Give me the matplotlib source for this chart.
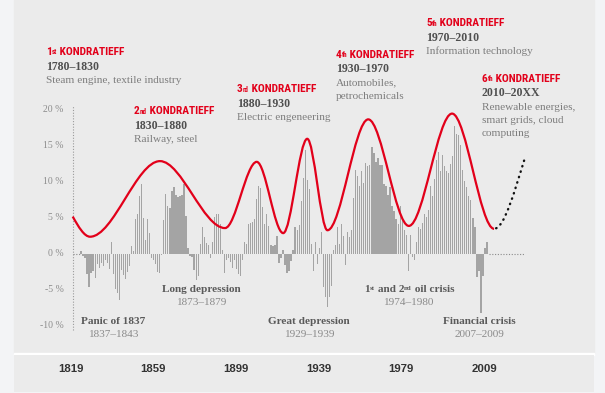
import matplotlib.pyplot as plt
import numpy as np
from matplotlib.path import Path
from matplotlib.patches import PathPatch, Rectangle
from matplotlib import font_manager

# yearly bars (rolling return in %), first bar is 1810
start_year = 1810
returns = [
    0.4, -0.3, -0.5, -2.8, -4.6, -2.6, -2.4, -3.3, -1.4, -1.9,
    -1.2, -1.6, -0.9, -1.2, -2.1, 1.6, -2.8, -4.8, -5.4, -6.4,
    -2.2, -2.9, -3.5, -2.5, -1.7, 1.1, 0.4, 4.8, 5.6, 8.0,
    9.7, 5.0, 2.0, 4.8, 2.9,
    -0.6, -0.8, -1.4, -2.5, -2.7, -0.2, 4.7, 8.4, 6.6, 6.4,
    8.7, 9.3, 8.2, 7.9, 8.0, 8.2, 9.7, 5.3, 0.8, -0.3,
    -0.4, -2.2, -3.6, -3.0,
    1.4, 3.8, 2.3, 1.5, 1.2, -0.6, 1.6, 5.2, 5.5, 5.6,
    4.2, 0.6, -2.6, -0.8, -0.6, -1.1, -2.0, -0.8, -2.1, -2.8,
    -3.0, -0.8, 1.6, 1.4, 4.2, 4.3, 4.5,
    4.8, 7.6, 9.5, 9.2, 6.5, 4.2, 5.6, 3.9, 1.3, 1.1,
    1.2, 2.5, -1.2, -0.5, 0.6, -1.5, -2.7, -2.4, -1.0, 0.5,
    3.7, 3.4, 4.0, 7.4, 10.5, 14.5,
    10.3, 9.0, 1.4, -2.4, 1.6, -1.4, 0.8, 3.0, -4.6, -6.0,
    -7.3, -6.0, -4.4, 0.6, 1.2, 3.8, 1.4, 4.2, 2.5, -1.5,
    3.0, 2.3, 3.4,
    7.8, 11.6, 10.9, 9.4, 11.5, 9.9, 12.6, 12.2, 12.4, 14.9,
    14.0, 12.8, 13.3, 12.3, 12.3, 9.7, 9.4, 8.2, 9.3, 6.7,
    6.0, 4.8, 4.2, 6.6, 5.0, 3.4, 2.7, -2.3, 2.7, -0.4,
    -0.8, 1.7, 3.7, 3.5,
    4.3, 5.6, 5.2, 6.1, 9.4, 8.0, 10.4, 13.0, 14.2, 11.5,
    13.7, 12.2, 11.5, 11.3, 12.5, 13.6, 17.8, 16.6, 16.5, 15.2,
    11.6, 10.2, 9.3, 8.0, 7.5, 5.0, 3.8, -3.2, -2.4, -8.2,
    -3.0, 0.8, 1.6,
]
years = np.arange(start_year, start_year + len(returns))

# Kondratieff wave: key points (year, %) and slope there (%/year)
curve_years = [1805.9, 1814.5, 1849.1, 1881.3, 1897.0, 1910.1, 1922.0,
               1932.0, 1952.2, 1972.3, 1993.7, 2014.5, 2029.6]
curve_values = [5.2, 2.4, 12.9, 3.6, 12.8, 2.9, 16.0,
                3.3, 18.7, 3.9, 19.5, 3.5, 13.2]
curve_slopes = [-0.5, 0, 0, 0, 0, 0, 0, 0, 0, 0, 0, 0, 0.9]

y_ticks = [20, 15, 10, 5, 0, -5, -10]
y_labels = ['20 %', '15 %', '10 %', '5 %', '0 %', '-5 %', '-10 %']
bottom_labels = ['1819', '1859', '1899', '1939', '1979', '2009']

waves = [
    ('1', 'st', '1780\u20131830', ['Steam engine, textile industry']),
    ('2', 'nd', '1830\u20131880', ['Railway, steel']),
    ('3', 'rd', '1880\u20131930', ['Electric engeneering']),
    ('4', 'th', '1930\u20131970', ['Automobiles,', 'petrochemicals']),
    ('5', 'th', '1970\u20132010', ['Information technology']),
    ('6', 'th', '2010\u201320XX', ['Renewable energies,', 'smart grids, cloud', 'computing']),
]
crises = [
    ('Panic of 1837', '1837\u20131843'),
    ('Long depression', '1873\u20131879'),
    ('Great depression', '1929\u20131939'),
    ('Financial crisis', '2007\u20132009'),
]

W, H = 605, 393
RED = '#e2001a'
PANEL = '#ebebeb'
SERIF = 'Liberation Serif'

# narrow bold sans for the red headings, whatever is installed
fonts = font_manager.fontManager.ttflist
names = {f.name for f in fonts}
HEAD, HEAD_STRETCH, HEAD_SIZE = 'Roboto', 'normal', 6.9
if 'Roboto Condensed' in names:
    HEAD, HEAD_STRETCH, HEAD_SIZE = 'Roboto Condensed', 'normal', 8.2
elif 'Liberation Sans Narrow' in names:
    HEAD, HEAD_STRETCH, HEAD_SIZE = 'Liberation Sans Narrow', 'normal', 8.2
elif any(f.name == 'DejaVu Sans' and f.stretch == 'condensed' for f in fonts):
    HEAD, HEAD_STRETCH, HEAD_SIZE = 'DejaVu Sans', 'condensed', 7.2


def fx(px):
    return px / W


def fy(py):
    return 1 - py / H


fig = plt.figure(figsize=(W / 100, H / 100), dpi=100, facecolor='#f3f4f6')
fig.patches.append(Rectangle((fx(13.5), fy(352.5)), fx(580), 352.5 / H,
                             transform=fig.transFigure, color=PANEL, zorder=-2))
fig.patches.append(Rectangle((fx(13.5), fy(355)), fx(580), 2.5 / H,
                             transform=fig.transFigure, color='white', zorder=-2))

ax = fig.add_axes([0, 0, 1, 1])
ax.patch.set_alpha(0)
ax.axis('off')
# 81 px = first bar, 2.02 px per year, 0 % at 254 px, 7.2 px per %
ax.set_xlim(start_year - 81 / 2.02, start_year + (W - 81) / 2.02)
ax.set_ylim(-(H - 254) / 7.2, 254 / 7.2)

ax.bar(years, returns, width=0.62, color='#a4a4a4', zorder=2)

# y axis, dotted
ax.vlines(curve_years[0], -10.5, 20.5, colors='#9a9a9a', linestyles=(0, (1, 1.5)), lw=0.8)
ax.hlines(0, curve_years[0], years[0] - 0.5, colors='#8a8a8a', linestyles=(0, (1, 1.5)), lw=0.8)
ax.hlines(0, years[-1] + 1, curve_years[-1], colors='#8a8a8a', linestyles=(0, (1, 1.5)), lw=0.8)
for v, lab in zip(y_ticks, y_labels):
    ax.text(fx(63.5), v, lab, transform=ax.get_yaxis_transform(), ha='right', va='center',
            fontsize=7, color='#8c8c8c', family=SERIF)


def wave_path(xs, ys, ss):
    verts = [(xs[0], ys[0])]
    codes = [Path.MOVETO]
    for i in range(len(xs) - 1):
        d = (xs[i + 1] - xs[i]) / 3
        verts += [(xs[i] + d, ys[i] + ss[i] * d),
                  (xs[i + 1] - d, ys[i + 1] - ss[i + 1] * d),
                  (xs[i + 1], ys[i + 1])]
        codes += [Path.CURVE4] * 3
    return Path(verts, codes)


n = len(curve_years)
ax.add_patch(PathPatch(wave_path(curve_years[:n - 1], curve_values[:n - 1], curve_slopes[:n - 1]),
                       fill=False, edgecolor=RED, lw=1.6, zorder=3))
ax.add_patch(PathPatch(wave_path(curve_years[n - 2:], curve_values[n - 2:], curve_slopes[n - 2:]),
                       fill=False, edgecolor='#111111', lw=1.7, linestyle=(1.5, (0.2, 2.2)),
                       capstyle='round', zorder=3))


def sup_text(x, y, parts, size, color, family, weight, stretch='normal'):
    # parts: (string, is_superscript); first piece sets the baseline
    kw = dict(color=color, family=family, weight=weight, fontstretch=stretch)
    first = ax.text(fx(x), fy(y), parts[0][0], transform=ax.transAxes, ha='left',
                    va='baseline', fontsize=size, **kw)
    prev = first
    for s, sup in parts[1:]:
        if sup:
            prev = ax.annotate(s, xy=(1, 0.88), xycoords=(prev, first), ha='left', va='top',
                               fontsize=size * 0.62, **kw)
        else:
            prev = ax.annotate(s, xy=(1, 0), xycoords=(prev, first), ha='left', va='bottom',
                               fontsize=size, **kw)


# x of left edge, baseline of red heading (px)
wave_pos = [(46, 55), (134, 114.5), (237, 92.5), (336, 57.5), (426, 26.5), (482, 81.5)]
for (num, sup, span, desc), (x, y) in zip(waves, wave_pos):
    sup_text(x, y, [(num, False), (sup, True), (' KONDRATIEFF', False)],
             HEAD_SIZE, RED, HEAD, 'bold', HEAD_STRETCH)
    ax.text(fx(x), fy(y + 14.5), span, transform=ax.transAxes, va='baseline',
            fontsize=8.5, color='#4f4f4f', family=SERIF, weight='bold')
    for k, line in enumerate(desc):
        ax.text(fx(x), fy(y + 28 + 13.3 * k), line, transform=ax.transAxes, va='baseline',
                fontsize=8.1, color='#7d7d7d', family=SERIF)

# centre x, baseline of bold line (px)
crisis_pos = [(113, 323.5), (201, 291.5), (309, 323.5), (479.5, 323.5)]
for (name, span), (x, y) in zip(crises, crisis_pos):
    ax.text(fx(x), fy(y), name, transform=ax.transAxes, ha='center', va='baseline',
            fontsize=8.1, color='#5a5a5a', family=SERIF, weight='bold')
    ax.text(fx(x), fy(y + 13.5), span, transform=ax.transAxes, ha='center', va='baseline',
            fontsize=8.1, color='#8a8a8a', family=SERIF)
sup_text(364, 291.5, [('1', False), ('st', True), (' and 2', False), ('nd', True),
                      (' oil crisis', False)], 8.1, '#5a5a5a', SERIF, 'bold')
ax.text(fx(408.5), fy(305), '1974\u20131980', transform=ax.transAxes, ha='center',
        va='baseline', fontsize=8.1, color='#8a8a8a', family=SERIF)

# bottom strip with evenly spaced year labels
strip = fig.add_axes([fx(13.5), fy(391.5), fx(580), 36.5 / H])
strip.set_facecolor(PANEL)
for s in strip.spines.values():
    s.set_visible(False)
strip.set_xticks([])
strip.set_yticks([])
strip.set_xlim((13.5 - 70.7) / 82.66, (593.5 - 70.7) / 82.66)
strip.set_ylim(0, 1)
for k, lab in enumerate(bottom_labels):
    strip.text(k, 0.62, lab, ha='center', va='center', fontsize=8.2,
               color='#333333', weight='bold', family='Liberation Sans')

fig.savefig('out.png', dpi=100, facecolor=fig.get_facecolor())
